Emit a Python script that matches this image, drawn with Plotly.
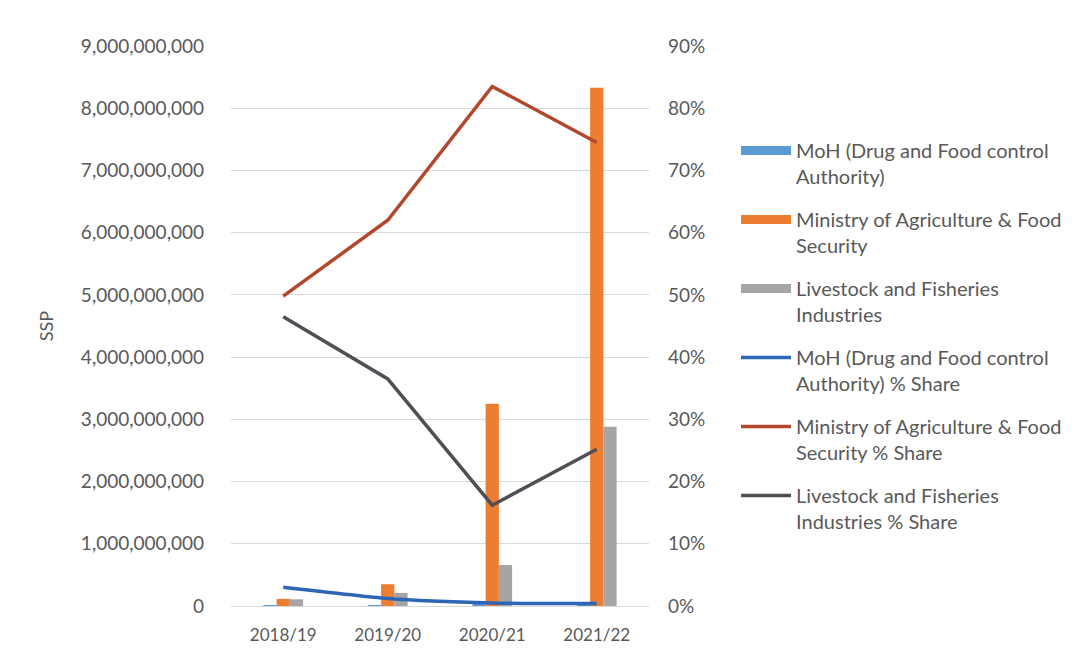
import plotly.graph_objects as go

years = ["2018/19", "2019/20", "2020/21", "2021/22"]

moh_budget = [0.007e9, 0.008e9, 0.02e9, 0.045e9]
moa_budget = [0.115e9, 0.35e9, 3.25e9, 8.33e9]
lfi_budget = [0.107e9, 0.21e9, 0.66e9, 2.88e9]

moh_share = [0.030, 0.012, 0.005, 0.004]
moa_share = [0.498, 0.620, 0.835, 0.745]
lfi_share = [0.465, 0.365, 0.162, 0.252]

names_bar = ["MoH (Drug and Food control<br>Authority)",
             "Ministry of Agriculture & Food<br>Security",
             "Livestock and Fisheries<br>Industries"]
names_line = ["MoH (Drug and Food control<br>Authority) % Share",
              "Ministry of Agriculture & Food<br>Security % Share",
              "Livestock and Fisheries<br>Industries % Share"]

bar_colors = ["#5B9BD5", "#ED7D31", "#A5A5A5"]
line_colors = ["#2F65B5", "#B2472B", "#4F4F55"]

FONT = "Lato"
TXT = "#595959"

fig = go.Figure()
for i, vals in enumerate([moh_budget, moa_budget, lfi_budget]):
    fig.add_trace(go.Bar(x=years, y=vals, name=names_bar[i],
                         marker=dict(color=bar_colors[i], line=dict(width=0)),
                         showlegend=False, legendgroup=f"g{i}", yaxis="y"))
    # legend entry drawn as a wide flat bar swatch, like the original
    fig.add_trace(go.Scatter(x=[None], y=[None], name=names_bar[i], mode="lines",
                             line=dict(color=bar_colors[i], width=9),
                             legendgroup=f"g{i}", yaxis="y"))
for i, vals in enumerate([moh_share, moa_share, lfi_share]):
    fig.add_trace(go.Scatter(x=years, y=vals, name=names_line[i], mode="lines",
                             line=dict(color=line_colors[i], width=3.5,
                                       shape="spline" if i == 0 else "linear",
                                       smoothing=0.6),
                             legendgroup=f"h{i}", yaxis="y2"))

fig.update_layout(
    width=1076, height=649,
    margin=dict(l=223, r=435, t=38, b=51),
    paper_bgcolor="white", plot_bgcolor="white",
    font=dict(family=FONT, size=18, color=TXT),
    barmode="group", bargap=0.62, bargroupgap=0,
    xaxis=dict(showgrid=False, showline=True, linecolor="#D9D9D9", linewidth=1,
               tickfont=dict(size=17, color=TXT), ticks="", automargin=False,
               ticklabelstandoff=14),
    yaxis=dict(range=[0, 9e9], dtick=1e9, tickformat=",d", showgrid=True,
               gridcolor="#D9D9D9", gridwidth=1, zeroline=False, automargin=False,
               title=dict(text="SSP", font=dict(size=18, color=TXT), standoff=22),
               ticklabelstandoff=26, tickfont=dict(size=19, color=TXT)),
    yaxis2=dict(range=[0, 0.9], dtick=0.1, tickformat=".0%", overlaying="y",
                side="right", showgrid=False, zeroline=False, automargin=False,
                ticklabelstandoff=18, tickfont=dict(size=19, color=TXT)),
    legend=dict(xref="container", yref="container", x=0.6766, y=0.8105,
                xanchor="left", yanchor="top", itemwidth=50, valign="top",
                tracegroupgap=14, traceorder="grouped", maxheight=600,
                font=dict(size=20, color=TXT), bgcolor="rgba(0,0,0,0)"),
    showlegend=True,
)

fig.write_html("out.html")
